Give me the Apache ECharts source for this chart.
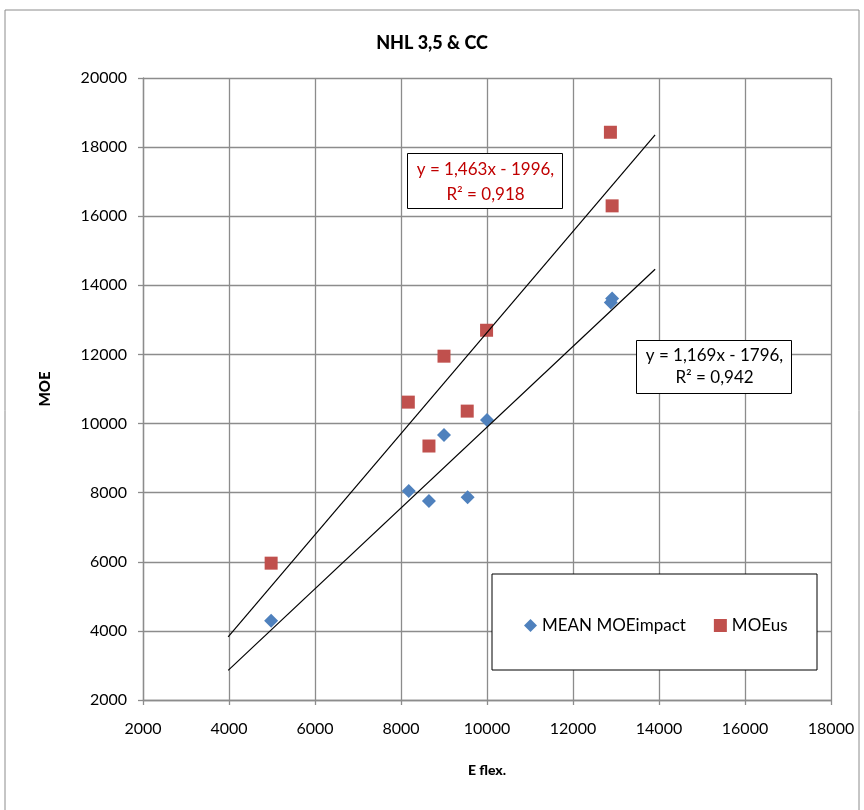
<!DOCTYPE html>
<html>
<head>
<meta charset="utf-8">
<script src="https://cdn.jsdelivr.net/npm/echarts@6/dist/echarts.min.js"></script>
<style>
  html, body { margin: 0; padding: 0; background: #fff; }
  #chart { width: 864px; height: 810px; }
</style>
</head>
<body>
<div id="chart"></div>
<script>
// E flex. / MOE pairs
const eFlex = [4980, 8180, 8650, 9000, 9550, 10000, 12880, 12910];
const moeImpact = [4290, 8050, 7760, 9670, 7870, 10100, 13500, 13620];
const eFlexUs = [4980, 8170, 8650, 9000, 9540, 9990, 12870, 12910];
const moeUs = [5960, 10620, 9350, 11950, 10360, 12700, 18430, 16300];

// trendline coefficients as shown in the labels
const fitImpact = { slope: 1.169, icpt: -1796, label: ['y = 1,169x - 1796,', 'R² = 0,942'] };
const fitUs = { slope: 1.463, icpt: -1996, label: ['y = 1,463x - 1996,', 'R² = 0,918'] };

const seriesNames = ['MEAN MOEimpact', 'MOEus'];
const colors = ['#4F81BD', '#C0504D'];

const font = 'Lato, "Open Sans", sans-serif';

function pairs(xs, ys) {
    return xs.map((x, i) => [x, ys[i]]);
}

// trendline drawn 1000 before the first and after the last point (forecast/backcast)
function trend(xs, fit) {
    let lo = Math.min(...xs) - 1000, hi = Math.max(...xs) + 1000;
    return [[lo, fit.slope * lo + fit.icpt], [hi, fit.slope * hi + fit.icpt]];
}

let chart = echarts.init(document.getElementById('chart'));
let gridStyle = { color: '#8c8c8c', width: 1.3 };
let plain = v => String(v);

chart.setOption({
    animation: false,
    backgroundColor: '#fff',
    title: {
        text: 'NHL 3,5 & CC',
        left: 'center',
        top: 29,
        textStyle: { fontFamily: font, fontSize: 18, fontWeight: 900, color: '#000' }
    },
    grid: { left: 143, right: 33, top: 78, bottom: 110 },
    xAxis: {
        type: 'value',
        min: 2000, max: 18000, interval: 2000,
        name: 'E flex.',
        nameLocation: 'middle',
        nameGap: 63,
        nameTextStyle: { fontFamily: font, fontSize: 14, fontWeight: 900, color: '#000' },
        axisLine: { show: true, lineStyle: gridStyle },
        axisTick: { show: true, length: 5, lineStyle: gridStyle },
        axisLabel: { fontFamily: font, fontSize: 16, color: '#000', margin: 21, formatter: plain },
        splitLine: { show: true, lineStyle: gridStyle }
    },
    yAxis: {
        type: 'value',
        min: 2000, max: 20000, interval: 2000,
        name: 'MOE',
        nameLocation: 'middle',
        nameGap: 90,
        nameRotate: 90,
        nameTextStyle: { fontFamily: font, fontSize: 15, fontWeight: 900, color: '#000' },
        axisLine: { show: true, lineStyle: gridStyle },
        axisTick: { show: true, length: 5, lineStyle: gridStyle },
        axisLabel: { fontFamily: font, fontSize: 16, color: '#000', margin: 16, formatter: plain },
        splitLine: { show: true, lineStyle: gridStyle }
    },
    legend: {
        data: [
            { name: seriesNames[0], icon: 'diamond' },
            { name: seriesNames[1], icon: 'rect' }
        ],
        left: 519,
        top: 612,
        zlevel: 1,
        z: 20,
        itemWidth: 13,
        itemHeight: 13,
        itemGap: 28,
        textStyle: { fontFamily: font, fontSize: 17, color: '#000' }
    },
    graphic: [
        // outer chart border
        { type: 'rect', shape: { x: 5, y: 10, width: 854, height: 810 },
          style: { fill: 'none', stroke: '#8c8c8c', lineWidth: 1 }, z: -1 },
        // legend frame
        { type: 'rect', zlevel: 1, z: 5, shape: { x: 492, y: 574, width: 325, height: 96 },
          style: { fill: '#fff', stroke: '#000', lineWidth: 1 } },
        // trendline label, MOEus
        { type: 'group', left: 407, top: 153, zlevel: 1, z: 10, children: [
            { type: 'rect', zlevel: 1, shape: { x: 0, y: 0, width: 155, height: 55 },
              style: { fill: '#fff', stroke: '#000', lineWidth: 1 } },
            { type: 'text', zlevel: 1, z: 11, x: 78, y: 4,
              style: { text: fitUs.label.join('\n'), align: 'center', fill: '#C00000',
                       font: '17px ' + font, lineHeight: 25 } }
        ]},
        // trendline label, MEAN MOEimpact
        { type: 'group', left: 636, top: 340, zlevel: 1, z: 10, children: [
            { type: 'rect', zlevel: 1, shape: { x: 0, y: 0, width: 155, height: 53 },
              style: { fill: '#fff', stroke: '#000', lineWidth: 1 } },
            { type: 'text', zlevel: 1, z: 11, x: 78, y: 4,
              style: { text: fitImpact.label.join('\n'), align: 'center', fill: '#000',
                       font: '17px ' + font, lineHeight: 22 } }
        ]}
    ],
    series: [
        {
            name: seriesNames[0],
            type: 'scatter',
            symbol: 'diamond',
            symbolSize: 14,
            itemStyle: { color: colors[0], opacity: 1 },
            data: pairs(eFlex, moeImpact),
            z: 3
        },
        {
            name: seriesNames[1],
            type: 'scatter',
            symbol: 'rect',
            symbolSize: 13,
            itemStyle: { color: colors[1], opacity: 1 },
            data: pairs(eFlexUs, moeUs),
            z: 3
        },
        {
            name: 'trend impact',
            type: 'line',
            showSymbol: false,
            silent: true,
            lineStyle: { color: '#000', width: 1.2 },
            data: trend(eFlex, fitImpact),
            z: 4
        },
        {
            name: 'trend us',
            type: 'line',
            showSymbol: false,
            silent: true,
            lineStyle: { color: '#000', width: 1.2 },
            data: trend(eFlexUs, fitUs),
            z: 4
        }
    ]
});
</script>
</body>
</html>
